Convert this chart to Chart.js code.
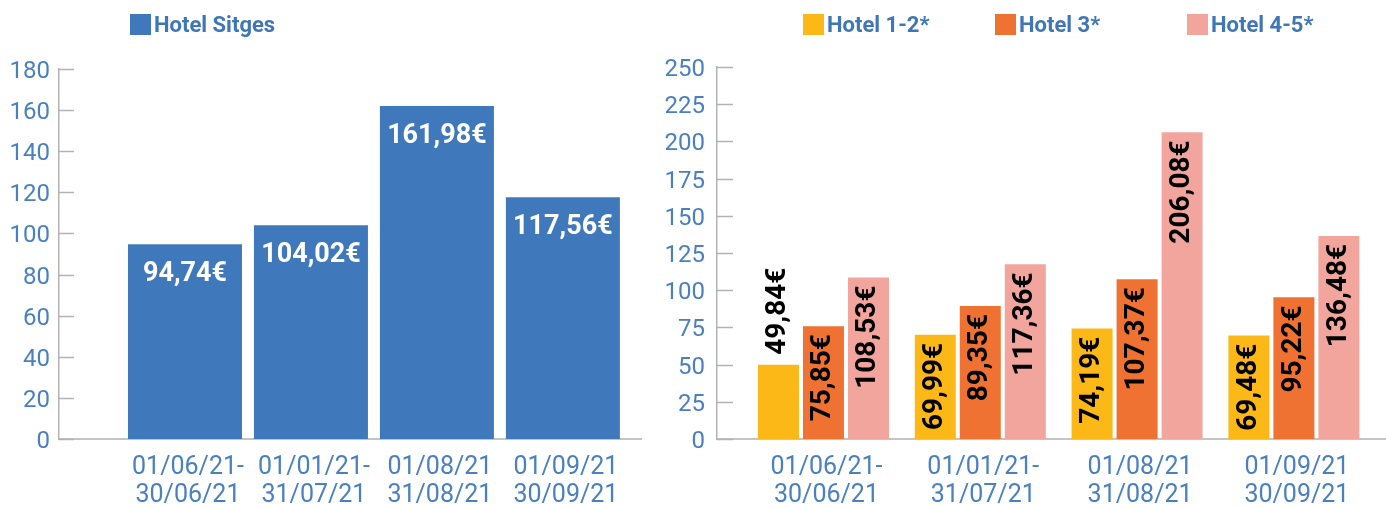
<!DOCTYPE html>
<html><head><meta charset="utf-8">
<script src="https://cdn.jsdelivr.net/npm/chart.js@4"></script>
<style>
html,body{margin:0;padding:0;background:#fff;}
#wrap{position:relative;width:1386px;height:506px;overflow:hidden;}
#c1box{position:absolute;left:0;top:0;width:660px;height:506px;}
#c2box{position:absolute;left:660px;top:0;width:726px;height:506px;}
</style></head><body>
<div id="wrap"><div id="c1box"><canvas id="c1" width="660" height="506"></canvas></div><div id="c2box"><canvas id="c2" width="726" height="506"></canvas></div></div>
<script>
// ---- data ----
const periods = [['01/06/21-','30/06/21'],['01/01/21-','31/07/21'],['01/08/21','31/08/21'],['01/09/21','30/09/21']];
const sitgesLabel = 'Hotel Sitges';
const sitgesValues = [94.74, 104.02, 161.98, 117.56];
const hotel12Label = 'Hotel 1-2*';
const hotel12Values = [49.84, 69.99, 74.19, 69.48];
const hotel3Label = 'Hotel 3*';
const hotel3Values = [75.85, 89.35, 107.37, 95.22];
const hotel45Label = 'Hotel 4-5*';
const hotel45Values = [108.53, 117.36, 206.08, 136.48];
const leftYTicks = [0, 20, 40, 60, 80, 100, 120, 140, 160, 180];
const rightYTicks = [0, 25, 50, 75, 100, 125, 150, 175, 200, 225, 250];

const fmt = v => v.toFixed(2).replace('.', ',') + '€';
const toPoints = arr => arr.map((v, i) => ({x: i, y: v}));

const TICK_BLUE = '#4a80c2';
const AXIS_GRAY = '#b3b3b3';

// ---- plugins ----
const insideTicks = {
  id: 'insideTicks',
  afterDraw(chart, args, o) {
    const y = chart.scales.y, a = chart.chartArea, ctx = chart.ctx;
    ctx.save();
    ctx.strokeStyle = o.color; ctx.lineWidth = o.width;
    y.ticks.forEach(t => {
      const py = Math.round(y.getPixelForValue(t.value)) + 0.5;
      ctx.beginPath(); ctx.moveTo(a.left, py); ctx.lineTo(a.left + o.length, py); ctx.stroke();
    });
    ctx.restore();
  }
};
const boxLegend = {
  id: 'boxLegend',
  afterDraw(chart, args, o) {
    const ctx = chart.ctx;
    ctx.save();
    chart.data.datasets.forEach((ds, i) => {
      const x = o.x + i * o.spacing;
      ctx.fillStyle = ds.backgroundColor;
      ctx.fillRect(x, o.y, o.box, o.box);
      ctx.font = o.font; ctx.fillStyle = o.color;
      ctx.textBaseline = 'middle'; ctx.textAlign = 'left';
      ctx.fillText(ds.label, x + o.box + o.gap, o.y + o.box / 2 + 2);
    });
    ctx.restore();
  }
};
const valueLabels = {
  id: 'valueLabels',
  afterDatasetsDraw(chart, args, o) {
    const ctx = chart.ctx;
    ctx.save();
    ctx.font = o.font; ctx.fillStyle = o.color; ctx.textBaseline = 'middle';
    chart.data.datasets.forEach((ds, di) => {
      const meta = chart.getDatasetMeta(di);
      meta.data.forEach((bar, i) => {
        const txt = fmt(ds.data[i].y);
        if (o.rotate) {
          const w = ctx.measureText(txt).width;
          const h = bar.base - bar.y;
          ctx.save();
          if (w + o.inset + o.minSpace <= h) {
            ctx.translate(bar.x, bar.y + o.inset); ctx.rotate(-Math.PI / 2); ctx.textAlign = 'right';
          } else {
            ctx.translate(bar.x, bar.y - o.outset); ctx.rotate(-Math.PI / 2); ctx.textAlign = 'left';
          }
          ctx.fillText(txt, 0, 0);
          ctx.restore();
        } else {
          ctx.textAlign = 'center';
          ctx.fillText(txt, bar.x, bar.y + o.inset);
        }
      });
    });
    ctx.restore();
  }
};

function xScale(min, max) {
  return {
    type: 'linear', min, max, offset: false, bounds: 'data',
    afterBuildTicks: s => { s.ticks = periods.map((p, i) => ({value: i})); },
    afterFit: s => { s.height = 67; },
    grid: {display: false, drawTicks: false, offset: false},
    border: {display: true, color: '#c4c4c4', width: 2},
    ticks: {
      autoSkip: false, maxRotation: 0, padding: 14, labelOffset: 3, color: TICK_BLUE,
      font: {family: 'Roboto', size: 25, lineHeight: 1.14},
      callback: v => periods[v]
    }
  };
}
function yScale(max, tickList, width, pad) {
  return {
    min: 0, max,
    afterBuildTicks: s => { s.ticks = tickList.map(v => ({value: v})); },
    afterFit: s => { s.width = width; },
    grid: {display: false, drawTicks: false},
    border: {display: true, color: AXIS_GRAY, width: 1.5},
    ticks: {padding: pad, labelOffset: 3, color: TICK_BLUE, font: {family: 'Roboto', size: 24}}
  };
}

Chart.defaults.font.family = 'Roboto';

new Chart(document.getElementById('c1'), {
  type: 'bar',
  data: {
    datasets: [{label: sitgesLabel, data: toPoints(sitgesValues), backgroundColor: '#3f78bb',
      categoryPercentage: 1, barPercentage: 0.905}]
  },
  options: {
    responsive: false, animation: false, devicePixelRatio: 1,
    layout: {padding: {left: 0, right: 19, top: 69, bottom: 0}},
    scales: {x: xScale(-1.0, 3.62), y: yScale(180, leftYTicks, 59, 9)},
    plugins: {
      legend: {display: false}, tooltip: {enabled: false},
      insideTicks: {color: AXIS_GRAY, width: 1.5, length: 15},
      boxLegend: {x: 130, y: 14, spacing: 0, box: 21, gap: 3, font: 'bold 22px Roboto', color: '#3e76b8'},
      valueLabels: {rotate: false, inset: 30, font: 'bold 27px Roboto', color: '#ffffff'}
    }
  },
  plugins: [insideTicks, boxLegend, valueLabels]
});

new Chart(document.getElementById('c2'), {
  type: 'bar',
  data: {
    datasets: [
      {label: hotel12Label, data: toPoints(hotel12Values), backgroundColor: '#fbb817'},
      {label: hotel3Label, data: toPoints(hotel3Values), backgroundColor: '#f07233'},
      {label: hotel45Label, data: toPoints(hotel45Values), backgroundColor: '#f2a59c'}
    ]
  },
  options: {
    responsive: false, animation: false, devicePixelRatio: 1,
    datasets: {bar: {categoryPercentage: 0.861, barPercentage: 0.911}},
    layout: {padding: {left: 0, right: 1, top: 67, bottom: 0}},
    scales: {x: xScale(-0.679, 3.581), y: yScale(250, rightYTicks, 57, 12)},
    plugins: {
      legend: {display: false}, tooltip: {enabled: false},
      insideTicks: {color: AXIS_GRAY, width: 1.5, length: 16},
      boxLegend: {x: 143, y: 14, spacing: 192, box: 21, gap: 3, font: 'bold 22px Roboto', color: '#3e76b8'},
      valueLabels: {rotate: true, inset: 8, outset: 10, minSpace: 4, font: 'bold 28px Roboto', color: '#000000'}
    }
  },
  plugins: [insideTicks, boxLegend, valueLabels]
});
</script>
</body></html>
